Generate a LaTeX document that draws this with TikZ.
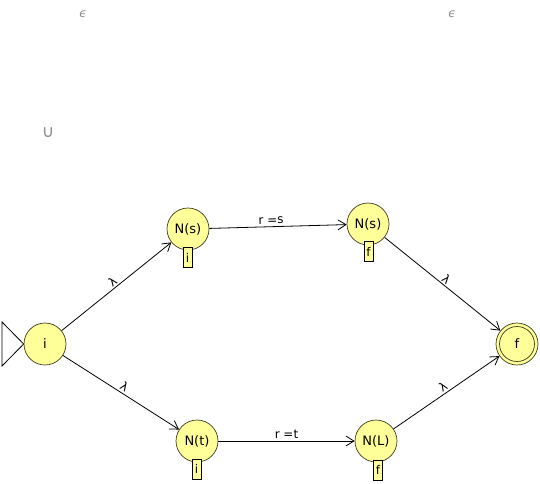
\documentclass[tikz,border=0pt]{standalone}
\usepackage{fontspec}
\setmainfont{DejaVu Sans}
\usetikzlibrary{arrows.meta}
\definecolor{stfill}{RGB}{255,255,153}
\definecolor{stline}{RGB}{60,60,30}
\begin{document}
\begin{tikzpicture}[x=1pt,y=-1pt,
  state/.style={circle,draw=stline,line width=0.7pt,fill=stfill,minimum size=42pt,inner sep=0pt,font=\fontsize{13}{14}\selectfont},
  tagbox/.style={draw=black,line width=0.7pt,fill=stfill,inner sep=0.5pt,minimum width=9pt,minimum height=20pt,font=\fontsize{12}{13}\selectfont},
  edge/.style={draw=black,-{Straight Barb[length=8pt,width=10pt]},line width=0.8pt},
  elabel/.style={font=\fontsize{12}{13}\selectfont,sloped,above,inner sep=2pt},
  lab/.style={font=\fontsize{12}{13}\selectfont,sloped,above,inner sep=1.5pt},
  faint/.style={text=black!45}]
\useasboundingbox (0,0) rectangle (540,483);
\node[faint,font=\itshape\fontsize{12}{13}\selectfont] (e1) at (83,14) {ϵ};
\node[faint,font=\itshape\fontsize{12}{13}\selectfont] (e2) at (452,14) {ϵ};
\node[faint,font=\fontsize{17}{18}\selectfont] (un) at (48,133) {∪};
\node[state] (i) at (45,344) {i};
\node[state] (ns1) at (188,229) {N(s)};
\node[state] (ns2) at (368,224) {N(s)};
\node[state] (nt) at (197,441) {N(t)};
\node[state] (nl) at (376,441) {N(L)};
\node[state] (f) at (517,344) {f};
\draw[stline,line width=0.7pt] (f.center) circle (17.5);
\node[tagbox] (b1) at (187.5,257.5) {i};
\node[tagbox] (b2) at (368.5,251.5) {f};
\node[tagbox] (b3) at (196.5,469) {i};
\node[tagbox] (b4) at (378,470) {f};
\coordinate (sa) at (2,322);
\coordinate (sb) at (2,366);
\draw[black,line width=0.8pt] (sa) -- (i.west) -- (sb) -- cycle;
\draw[edge] (i) -- node[lab] {λ} (ns1);
\draw[edge] (i) -- node[lab] {λ} (nt);
\draw[edge] (ns1) -- node[elabel,pos=0.45] {r =s} (ns2);
\draw[edge] (nt) -- node[elabel,pos=0.5] {r =t} (nl);
\draw[edge] (ns2) -- node[lab] {λ} (f);
\draw[edge] (nl) -- node[lab] {λ} (f);
\end{tikzpicture}
\end{document}
